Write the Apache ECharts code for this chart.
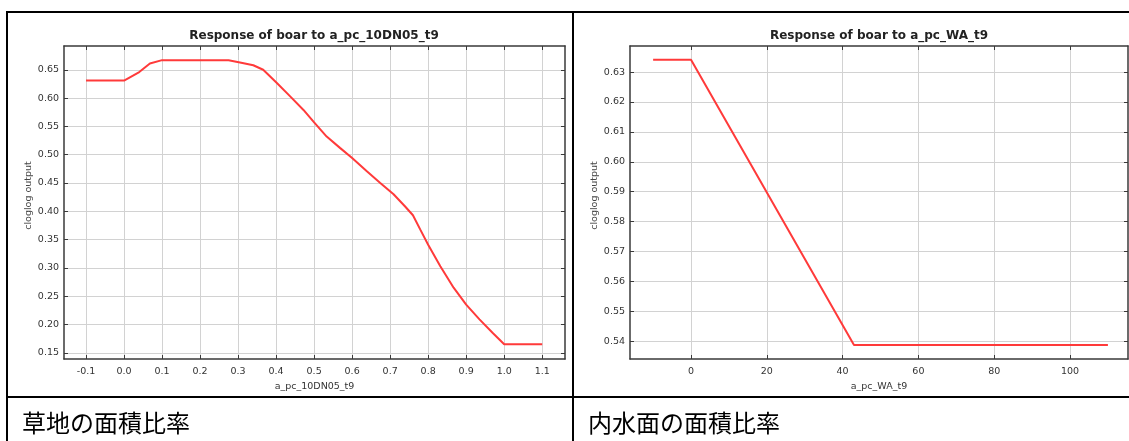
<!DOCTYPE html>
<html>
<head>
<meta charset="utf-8">
<script src="https://cdn.jsdelivr.net/npm/echarts@6/dist/echarts.min.js"></script>
<style>
  html, body { margin: 0; padding: 0; background: #fff; }
  #wrap { position: relative; width: 1129px; height: 441px; overflow: hidden; }
  #chart { position: absolute; left: 0; top: 0; width: 1129px; height: 441px; }
  .ln { position: absolute; background: #000; z-index: 5; }
  .cap { position: absolute; z-index: 6; font-family: "Noto Sans CJK JP", sans-serif; font-size: 24px; color: #000; line-height: 30px; white-space: nowrap; }
</style>
</head>
<body>
<div id="wrap">
  <div id="chart"></div>
  <div class="ln" style="left:6px; top:11px; width:1130px; height:2px;"></div>
  <div class="ln" style="left:6px; top:396px; width:1130px; height:2px;"></div>
  <div class="ln" style="left:6px; top:11px; width:2px; height:440px;"></div>
  <div class="ln" style="left:572px; top:11px; width:2px; height:440px;"></div>
  <div class="cap" style="left:22px; top:407px;">草地の面積比率</div>
  <div class="cap" style="left:588px; top:407px;">内水面の面積比率</div>
</div>
<script>
// ---- data ----
const titleLeft = 'Response of boar to a_pc_10DN05_t9';
const titleRight = 'Response of boar to a_pc_WA_t9';
const xNameLeft = 'a_pc_10DN05_t9';
const xNameRight = 'a_pc_WA_t9';
const yName = 'cloglog output';

const leftX = [-0.1, 0.0, 0.04, 0.068, 0.1, 0.275, 0.305, 0.34, 0.366, 0.40, 0.437, 0.472, 0.50, 0.533, 0.568, 0.60, 0.638, 0.674, 0.709, 0.74, 0.76, 0.779, 0.80, 0.832, 0.867, 0.90, 0.935, 0.97, 1.0, 1.1];
const leftY = [0.631, 0.631, 0.646, 0.661, 0.667, 0.667, 0.663, 0.658, 0.650, 0.628, 0.603, 0.579, 0.557, 0.532, 0.512, 0.494, 0.471, 0.450, 0.430, 0.408, 0.393, 0.368, 0.341, 0.303, 0.265, 0.235, 0.209, 0.185, 0.165, 0.165];

const rightX = [-10, 0, 43, 110];
const rightY = [0.6341, 0.6341, 0.5388, 0.5388];

const leftXTicks = [-0.1, 0.0, 0.1, 0.2, 0.3, 0.4, 0.5, 0.6, 0.7, 0.8, 0.9, 1.0, 1.1];
const leftYTicks = [0.15, 0.20, 0.25, 0.30, 0.35, 0.40, 0.45, 0.50, 0.55, 0.60, 0.65];
const rightXTicks = [0, 20, 40, 60, 80, 100];
const rightYTicks = [0.54, 0.55, 0.56, 0.57, 0.58, 0.59, 0.60, 0.61, 0.62, 0.63];

// ---- chart ----
const chart = echarts.init(document.getElementById('chart'), null, { renderer: 'canvas' });
const FONT = '"DejaVu Sans", "Liberation Sans", sans-serif';
const gridColor = '#d2d2d2';
const frameColor = '#3a3a3a';
const labelStyle = { fontFamily: FONT, fontSize: 9.5, color: '#333' };

function zip(xs, ys) { return xs.map((x, i) => [x, ys[i]]); }

function xAxes(gi, min, max, ticks, dec, name) {
  return [
    {
      type: 'value', gridIndex: gi, position: 'bottom', min: min, max: max,
      name: name, nameLocation: 'middle', nameGap: 22,
      nameTextStyle: { fontFamily: FONT, fontSize: 9.5, color: '#333' },
      axisLine: { show: true, onZero: false, lineStyle: { color: frameColor, width: 1.5 } },
      axisTick: { show: true, inside: true, length: 4, customValues: ticks, lineStyle: { color: frameColor } },
      axisLabel: Object.assign({ customValues: ticks, margin: 8, formatter: v => Number(v).toFixed(dec) }, labelStyle),
      splitLine: { show: true, lineStyle: { color: gridColor, width: 1 } }
    },
    {
      type: 'value', gridIndex: gi, position: 'top', min: min, max: max,
      axisLine: { show: true, onZero: false, lineStyle: { color: frameColor, width: 1.5 } },
      axisTick: { show: true, inside: true, length: 4, customValues: ticks, lineStyle: { color: frameColor } },
      axisLabel: { show: false },
      splitLine: { show: false }
    }
  ];
}
function yAxes(gi, min, max, ticks, dec) {
  return [
    {
      type: 'value', gridIndex: gi, position: 'left', min: min, max: max,
      name: yName, nameLocation: 'middle', nameGap: 30, nameRotate: 90,
      nameTextStyle: { fontFamily: FONT, fontSize: 9.5, color: '#444', padding: [0, 0, 0, 14] },
      axisLine: { show: true, onZero: false, lineStyle: { color: frameColor, width: 1.5 } },
      axisTick: { show: true, inside: true, length: 4, customValues: ticks, lineStyle: { color: frameColor } },
      axisLabel: Object.assign({ customValues: ticks, margin: 5, formatter: v => Number(v).toFixed(dec) }, labelStyle),
      splitLine: { show: true, lineStyle: { color: gridColor, width: 1 } }
    },
    {
      type: 'value', gridIndex: gi, position: 'right', min: min, max: max,
      axisLine: { show: true, onZero: false, lineStyle: { color: frameColor, width: 1.5 } },
      axisTick: { show: true, inside: true, length: 4, customValues: ticks, lineStyle: { color: frameColor } },
      axisLabel: { show: false },
      splitLine: { show: false }
    }
  ];
}

const titleStyle = { fontFamily: FONT, fontSize: 12, fontWeight: 'bold', color: '#222' };
const option = {
  animation: false,
  backgroundColor: '#fff',
  title: [
    { text: titleLeft, left: 314, top: 30, padding: 0, textAlign: 'center', textStyle: titleStyle },
    { text: titleRight, left: 879, top: 30, padding: 0, textAlign: 'center', textStyle: titleStyle }
  ],
  grid: [
    { left: 64, top: 46, width: 501, height: 313 },
    { left: 630, top: 46, width: 498, height: 313 }
  ],
  xAxis: [].concat(
    xAxes(0, -0.158, 1.16, leftXTicks, 1, xNameLeft),
    xAxes(1, -16.1, 115.3, rightXTicks, 0, xNameRight)
  ),
  yAxis: [].concat(
    yAxes(0, 0.139, 0.692, leftYTicks, 2),
    yAxes(1, 0.5341, 0.6387, rightYTicks, 2)
  ),
  series: [
    { type: 'line', xAxisIndex: 0, yAxisIndex: 0, data: zip(leftX, leftY), showSymbol: false, symbol: 'none',
      lineStyle: { color: '#ff3a3a', width: 2 } },
    { type: 'line', xAxisIndex: 2, yAxisIndex: 2, data: zip(rightX, rightY), showSymbol: false, symbol: 'none',
      lineStyle: { color: '#ff3a3a', width: 2 } }
  ]
};
chart.setOption(option);
</script>
</body>
</html>
